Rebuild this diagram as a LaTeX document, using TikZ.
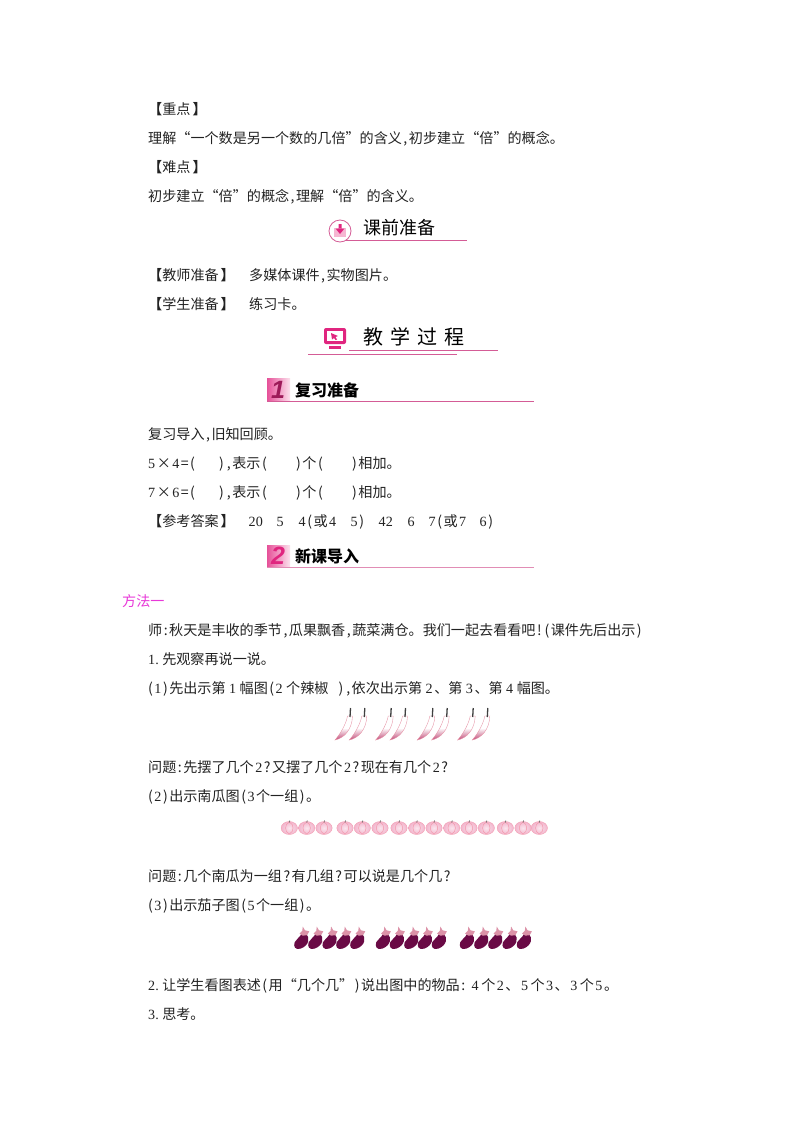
\documentclass[tikz,border=0pt]{standalone}
\usepackage{fontspec}
\usepackage{tikz}
\usetikzlibrary{calc,shadings}
\setmainfont{Liberation Serif}
\newfontfamily\cjk{Noto Sans CJK SC}
\newfontfamily\numfont{Liberation Sans}
\newcommand{\la}[1]{\kern1.5pt{\rmfamily #1}\kern1.5pt}
\newcommand{\lb}{\textbf{【}}
\newcommand{\rb}{\kern2pt\textbf{】}}
% ASCII punctuation gets some air, as in the page
\newXeTeXintercharclass\puncclass
\XeTeXcharclass`\,=\puncclass
\XeTeXcharclass`\:=\puncclass
\XeTeXcharclass`\!=\puncclass
\XeTeXcharclass`\?=\puncclass
\XeTeXcharclass`\(=\puncclass
\XeTeXcharclass`\)=\puncclass
\XeTeXinterchartoks 0 \puncclass={\kern1.5pt}
\XeTeXinterchartoks \puncclass 0={\kern1.5pt}
\XeTeXinterchartoks \puncclass \puncclass={\kern3pt}
\newcommand{\linefont}{\cjk\fontsize{14.1}{14.1}\selectfont\XeTeXinterchartokenstate=1\relax}
\definecolor{rulepink}{HTML}{D45C96}
\definecolor{iconpink}{HTML}{E0257F}
\definecolor{lightpink}{HTML}{F6B6D2}
\definecolor{methodpink}{HTML}{E838D8}
\definecolor{textgray}{HTML}{222222}
\definecolor{eggdark}{HTML}{6A0A45}
\definecolor{eggtop}{HTML}{DC92A8}
\definecolor{chilidark}{HTML}{C04A78}
\definecolor{pumpkinpk}{HTML}{F2B4CC}
\tikzset{
  line/.style={anchor=base west,inner sep=0pt,font=\linefont,text=textgray},
  head/.style={anchor=base west,inner sep=0pt,text=black},
  rulepk/.style={draw=rulepink,line width=0.9pt},
  numsq/.style={anchor=center,inner sep=0pt,font=\numfont\fontsize{25}{25}\selectfont\bfseries\itshape},
  pics/chili/.style={code={
    \path[top color=white,bottom color=chilidark,middle color=white,draw=pink!60!chilidark,line width=0.35pt]
      (-2.5,8) .. controls (-3.5,14) and (-8,24) .. (-15,32)
      .. controls (-6,30) and (2,22) .. (2.5,8) -- cycle;
    \draw[black!75,line width=1.3pt] (0.5,0) -- (0,9);
  }},
  pics/pumpkin/.style={code={
    \shade[inner color=pumpkinpk!35,outer color=pumpkinpk,draw=pumpkinpk!85!red,line width=0.3pt] (0,0) ellipse [x radius=8.2,y radius=6.5];
    \draw[pumpkinpk!85!red,line width=0.5pt] (0,-6) .. controls (-5,-4) and (-5,4) .. (0,6)
      (0,-6) .. controls (5,-4) and (5,4) .. (0,6);
    \draw[black!55,line width=0.7pt] (0,-5.5) -- (0.6,-7.5);
  }},
  pics/eggplant/.style={code={
    \fill[eggdark] (4,-6) .. controls (8,-2) and (7,5) .. (-1,8)
      .. controls (-6,9.5) and (-8,6) .. (-6.5,2)
      .. controls (-5,-1) and (-2,-2) .. (0,-6) -- cycle;
    \fill[eggtop] (-2,-6) -- (0.5,-8.5) -- (1,-12.5) -- (3,-9) -- (7,-8) -- (5,-4.5) -- (1,-4) -- cycle;
  }}
}
\begin{document}
\begin{tikzpicture}[x=1pt,y=-1pt]
\useasboundingbox[fill=white] (0,0) rectangle (800,1132);

% top block
\node[line] (zhongdian) at (148,114) {\lb 重点\rb};
\node[line] (lijie) at (148,143) {理解“一个数是另一个数的几倍”的含义,初步建立“倍”的概念。};
\node[line] (nandian) at (148,172) {\lb 难点\rb};
\node[line] (chubu) at (148,201) {初步建立“倍”的概念,理解“倍”的含义。};

% heading with the circle
\node[head,font=\cjk\fontsize{18}{18}\selectfont] (keqian) at (363,234.5) {课前准备};
\coordinate (keqianl) at (345,240);
\coordinate (keqianr) at (467,240);
\draw[rulepk] (keqianl) -- (keqianr);
\node[circle,draw=rulepink,fill=white,line width=0.8pt,minimum size=22pt,inner sep=0pt] (keqianicon) at (340,231) {};
\fill[lightpink] (334,228) rectangle (346,237);
\fill[iconpink] (338.5,224) rectangle (341.5,229) (335.5,228.5) -- (344.5,228.5) -- (340,234) -- cycle;

\node[line] (jiaoshi) at (148,280) {\lb 教师准备\rb};
\node[line] (meiti) at (249,280) {多媒体课件,实物图片。};
\node[line] (xuesheng) at (148,309) {\lb 学生准备\rb};
\node[line] (lianxi) at (249,309) {练习卡。};

% heading with the monitor
\node[head,font=\cjk\fontsize{20}{20}\selectfont] (jiaoxue) at (363.5,344) {教\hspace{7pt}学\hspace{7pt}过\hspace{7pt}程};
\coordinate (upl) at (349,350.5);
\coordinate (upr) at (498,350.5);
\coordinate (lowl) at (308,354.5);
\coordinate (lowr) at (457,354.5);
\draw[rulepk] (upl) -- (upr);
\draw[rulepk] (lowl) -- (lowr);
\fill[iconpink,rounded corners=2pt] (324,328) rectangle (346,344);
\fill[white] (327,331) rectangle (343,341);
\fill[iconpink] (331,333) -- (338,336) -- (335.5,337) -- (337,339.5) -- (335.5,340) -- (334,338) -- (332,339.5) -- cycle;
\fill[iconpink] (329,346) rectangle (341,348.5);

% section 1
\shade[left color=iconpink!80,right color=lightpink!40] (267,378) rectangle (290,401);
\node[numsq,text=iconpink!70!black] (numone) at (278,389.5) {1};
\node[head,font=\cjk\fontsize{16}{16}\selectfont\bfseries] (fuxi) at (295,396.5) {复习准备};
\coordinate (fuxil) at (267,401);
\coordinate (fuxir) at (534,401);
\draw[rulepk] (fuxil) -- (fuxir);

\node[line] (daoru) at (148,439) {复习导入,旧知回顾。};

\foreach \row/\y/\a/\b in {a/468/5/4,b/497/7/6} {
  \node[line] (l\row) at (146.5,\y) {\la{\a}×\la{\b}=(};
  \node[line] (m\row) at (219,\y) {),表示(};
  \node[line] (n\row) at (296,\y) {)个(};
  \node[line] (o\row) at (352,\y) {)相加。};
}

\node[line] (cankao) at (148,526) {\lb 参考答案\rb};
\foreach \x/\t [count=\i] in {247/\la{20},275/\la{5},297/\la{4}(或\la{4},349/\la{5}),377/\la{42},406/\la{6},427/\la{7}(或\la{7},478/\la{6})} {
  \node[line] (ans\i) at (\x,526) {\t};
}

% section 2
\shade[left color=iconpink!80,right color=lightpink!40] (267,545) rectangle (290,567);
\node[numsq,text=iconpink] (numtwo) at (278,556) {2};
\node[head,font=\cjk\fontsize{16}{16}\selectfont\bfseries] (xinke) at (295,562.5) {新课导入};
\coordinate (xinkel) at (267,567);
\coordinate (xinker) at (534,567);
\draw[rulepk,draw=rulepink!70] (xinkel) -- (xinker);

\node[line,text=methodpink] (fangfa) at (122,606) {方法一};
\node[line] (shi) at (148,635) {师:秋天是丰收的季节,瓜果飘香,蔬菜满仓。我们一起去看看吧!(课件先后出示)};
\node[line] (guancha) at (146.5,664) {\la{1.}\kern2pt 先观察再说一说。};
\node[line] (chushi) at (148,693) {(\la{1})先出示第\kern2pt\la{1}\kern2pt 幅图(\la{2}\kern2pt 个辣椒\kern10pt),依次出示第\kern2pt\la{2}、第\kern2pt\la{3}、第\kern2pt\la{4}\kern2pt 幅图。};

\foreach \x in {350,364.3,390.7,405,432.3,446.7,472.7,487.3}
  \pic at (\x,708) {chili};

\node[line] (wenti) at (148,772) {问题:先摆了几个\la{2}?又摆了几个\la{2}?现在有几个\la{2}?};
\node[line] (nangua) at (148,801) {(\la{2})出示南瓜图(\la{3}个一组)。};

\foreach \x in {289.3,306.7,324,345,362.3,380,399,416.7,434,451.7,469,486.3,505.3,523,539.3}
  \pic at (\x,828) {pumpkin};

\node[line] (wentib) at (148,881) {问题:几个南瓜为一组?有几组?可以说是几个几?};
\node[line] (qiezi) at (148,910) {(\la{3})出示茄子图(\la{5}个一组)。};

\foreach \x in {301.7,315.7,330,343.7,357.7,383.3,397.3,411.7,425.3,439.3,467.3,481.7,495.7,510,524.3}
  \pic[scale=1.08] at (\x,940) {eggplant};

\node[line] (rang) at (146.5,990) {\la{2.}\kern2pt 让学生看图表述(用“几个几”)说出图中的物品:\kern5pt\la{4}\kern1pt 个\la{2}、\la{5}\kern1pt 个\la{3}、\la{3}\kern1pt 个\la{5}。};
\node[line] (sikao) at (146.5,1019) {\la{3.}\kern2pt 思考。};
\end{tikzpicture}
\end{document}
